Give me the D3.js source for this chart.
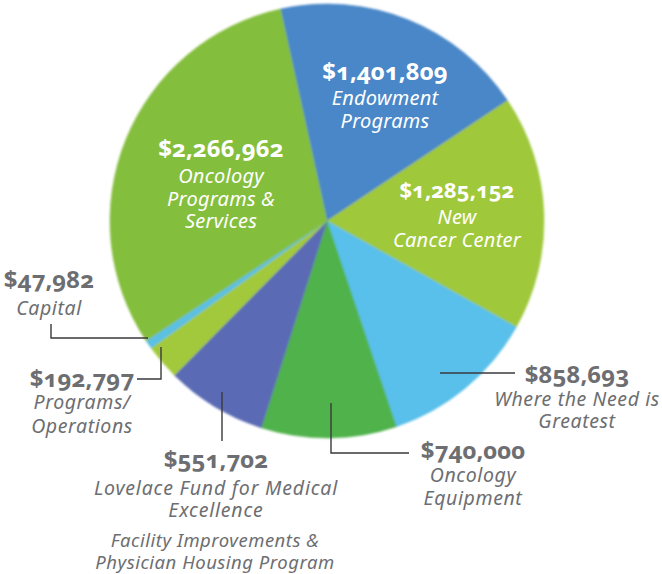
<!DOCTYPE html>
<html>
<head>
<meta charset="utf-8">
<script src="https://cdn.jsdelivr.net/npm/d3@7"></script>
<style>
  html, body { margin: 0; padding: 0; background: #fff; }
  svg { display: block; }
  text { font-family: "Noto Sans", "Open Sans", sans-serif; font-feature-settings: "onum" 1; }
</style>
</head>
<body>
<svg id="chart" width="662" height="574"></svg>
<script>
// Gift allocations, in drawing order (clockwise from the Endowment wedge)
const categories = [
  "Endowment Programs",
  "New Cancer Center",
  "Where the Need is Greatest",
  "Oncology Equipment",
  "Lovelace Fund for Medical Excellence",
  "Programs/Operations",
  "Capital",
  "Oncology Programs & Services"
];
const amounts = [1401809, 1285152, 858693, 740000, 551702, 192797, 47982, 2266962];
const sliceColors = ["#4a87c8", "#9fc83b", "#59c0ea", "#50b24c", "#5a6bb4", "#a2c93a", "#5cc0e2", "#84be3e"];

// Label text lines for each wedge (first line is the amount)
const labelLines = [
  ["Endowment", "Programs"],
  ["New", "Cancer Center"],
  ["Where the Need is", "Greatest"],
  ["Oncology", "Equipment"],
  ["Lovelace Fund for Medical", "Excellence"],
  ["Programs/", "Operations"],
  ["Capital"],
  ["Oncology", "Programs &", "Services"]
];
const noteLines = ["Facility Improvements &", "Physician Housing Program"];

// Layout: label anchors, sizes and leader lines
const cx = 327, cy = 221, radius = 217;
const startDeg = -12.4;
const labelLayout = [
  { x: 385, y: 80,  inside: true,  valueSize: 24, lineSize: 20, spacing: 0.25, gaps: [25, 23] },
  { x: 457, y: 198, inside: true,  valueSize: 22, lineSize: 20, spacing: 0.25, gaps: [26, 23] },
  { x: 577, y: 383, inside: false, valueSize: 24, lineSize: 19.5, spacing: 0.6, gaps: [23, 22] },
  { x: 473, y: 459, inside: false, valueSize: 24, lineSize: 19.5, spacing: 0.6, gaps: [23, 23] },
  { x: 216, y: 468, inside: false, valueSize: 24, lineSize: 19.5, spacing: 0.8, gaps: [27, 22] },
  { x: 82,  y: 387, inside: false, valueSize: 24, lineSize: 19.5, spacing: 0.6, gaps: [22, 24] },
  { x: 49,  y: 288, inside: false, valueSize: 24, lineSize: 19.5, spacing: 0.6, gaps: [27] },
  { x: 221, y: 157, inside: true,  valueSize: 24, lineSize: 20, spacing: 0.25, gaps: [26, 23, 22] }
];
const leaders = [
  null,
  null,
  [[440, 373], [515, 373]],
  [[331, 403], [331, 453], [409, 453]],
  [[222, 392], [222, 441]],
  [[161, 347], [161, 379], [137, 379]],
  [[148, 338], [51, 338], [51, 324]],
  null
];
const noteLayout = { x: 215, y: 547, size: 18.5, spacing: 0.5, gap: 22 };

const svg = d3.select("#chart");
const defs = svg.append("defs");
defs.append("filter").attr("id", "soft")
  .attr("x", "-5%").attr("y", "-5%").attr("width", "110%").attr("height", "110%")
  .append("feGaussianBlur").attr("stdDeviation", 0.9);

const rad = d => d * Math.PI / 180;
const pie = d3.pie().sort(null).value(d => d)
  .startAngle(rad(startDeg)).endAngle(rad(startDeg) + 2 * Math.PI);
const arc = d3.arc().innerRadius(0).outerRadius(radius);

const color = d3.scaleOrdinal().domain(categories).range(sliceColors);
const arcs = pie(amounts);

const g = svg.append("g").attr("transform", `translate(${cx},${cy})`).attr("filter", "url(#soft)");
g.selectAll("path")
  .data(arcs)
  .join("path")
  .attr("d", arc)
  .attr("fill", (d, i) => color(categories[i]))
  .attr("stroke", (d, i) => color(categories[i]))
  .attr("stroke-width", 0.6);

// Leader lines
svg.append("g").selectAll("path")
  .data(leaders.filter(Boolean))
  .join("path")
  .attr("d", d => d3.line()(d))
  .attr("fill", "none")
  .attr("stroke", "#3a3a3c")
  .attr("stroke-width", 1.4);

// Labels
const fmt = d3.format("$,");
const labels = svg.append("g");
amounts.forEach((v, i) => {
  const L = labelLayout[i];
  const fill = L.inside ? "#ffffff" : "#6d6e71";
  labels.append("text")
    .attr("x", L.x).attr("y", L.y)
    .attr("text-anchor", "middle")
    .attr("font-weight", 700)
    .attr("font-size", L.valueSize)
    .attr("fill", fill)
    .text(fmt(v));
  let y = L.y;
  labelLines[i].forEach((line, k) => {
    y += L.gaps[k];
    labels.append("text")
      .attr("x", L.x).attr("y", y)
      .attr("text-anchor", "middle")
      .attr("font-style", "italic")
      .attr("font-size", L.lineSize)
      .attr("letter-spacing", L.spacing)
      .attr("fill", fill)
      .text(line);
  });
});
noteLines.forEach((line, k) => {
  labels.append("text")
    .attr("x", noteLayout.x).attr("y", noteLayout.y + k * noteLayout.gap)
    .attr("text-anchor", "middle")
    .attr("font-style", "italic")
    .attr("font-size", noteLayout.size)
    .attr("letter-spacing", noteLayout.spacing)
    .attr("fill", "#6d6e71")
    .text(line);
});
</script>
</body>
</html>
